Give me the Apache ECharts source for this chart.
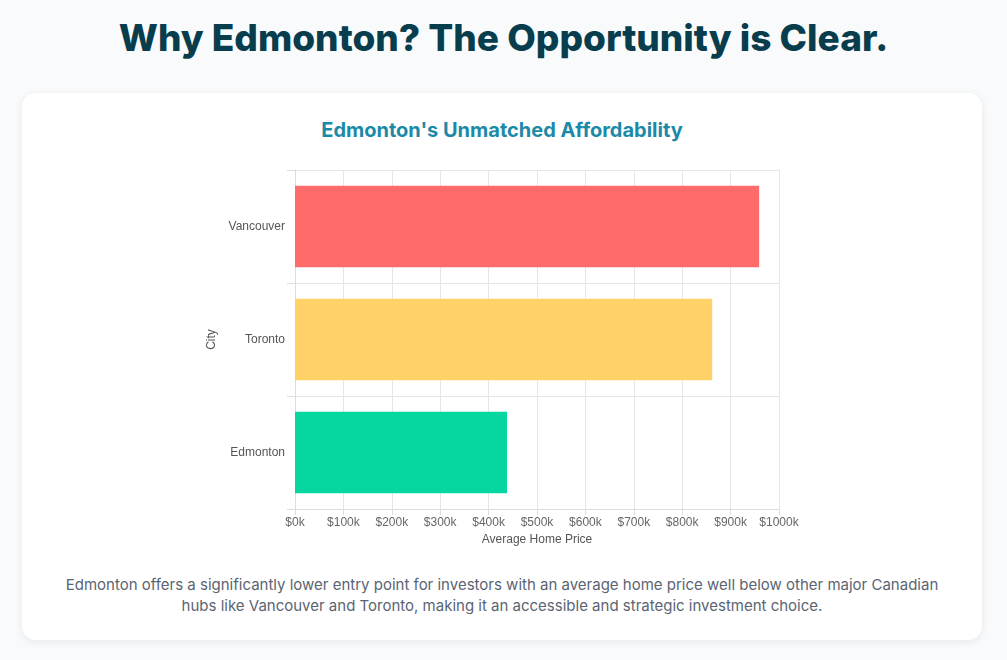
<!DOCTYPE html>
<html><head><meta charset="utf-8">
<script src="https://cdn.jsdelivr.net/npm/echarts@6/dist/echarts.min.js"></script>
<style>
html,body{margin:0;padding:0;background:#f8fafc;width:1007px;height:660px;overflow:hidden;font-family:Inter,"Noto Sans",sans-serif;}
h1{position:absolute;left:0;width:1007px;top:14px;margin:0;text-align:center;font-size:37px;font-weight:800;color:#083d4d;line-height:48px;}
.card{position:absolute;left:22px;top:93px;width:960px;height:547px;background:#fff;border-radius:14px;box-shadow:0 2px 8px rgba(0,0,0,0.08);}
h2{position:absolute;left:0;width:960px;top:24px;margin:0;text-align:center;font-size:20px;font-weight:700;color:#1b8aa8;line-height:26px;}
#chart{position:absolute;left:0;top:57px;width:960px;height:420px;}
p{position:absolute;left:30px;width:900px;top:481px;margin:0;text-align:center;font-size:15px;line-height:21px;color:#5b6472;}
</style></head><body>
<h1>Why Edmonton? The Opportunity is Clear.</h1>
<div class="card">
<h2>Edmonton's Unmatched Affordability</h2>
<div id="chart"></div>
<p>Edmonton offers a significantly lower entry point for investors with an average home price well below other major Canadian hubs like Vancouver and Toronto, making it an accessible and strategic investment choice.</p>
</div>
<script>
const cities = ["Edmonton","Toronto","Vancouver"];
const prices = [438000, 862000, 959000];
const colors = ["#06d6a0","#ffd166","#ff6b6b"];
const chart = echarts.init(document.getElementById('chart'));
chart.setOption({
  animation:false,
  textStyle:{fontFamily:"Liberation Sans, Arial, sans-serif"},
  grid:{left:273,right:203,top:20,bottom:61},
  xAxis:{type:'value',min:0,max:1000000,interval:100000,
    name:'Average Home Price',nameLocation:'middle',nameGap:22,
    nameTextStyle:{color:'#555',fontSize:12},
    axisLabel:{color:'#666',fontSize:12,formatter:v=>'$'+(v/1000)+'k'},
    axisLine:{show:true,lineStyle:{color:'#ddd'}},axisTick:{show:true,length:6,lineStyle:{color:'#ddd'}},
    splitLine:{lineStyle:{color:'#e6e6e6'}}},
  yAxis:{type:'category',data:cities,
    name:'City',nameLocation:'middle',nameGap:76,nameRotate:90,
    nameTextStyle:{color:'#555',fontSize:12},
    axisLabel:{color:'#555',fontSize:12,margin:10},
    axisLine:{lineStyle:{color:'#ddd'}},axisTick:{show:true,length:8,lineStyle:{color:'#ddd'}},
    splitLine:{show:true,lineStyle:{color:'#e6e6e6'}}},
  series:[{type:'bar',barWidth:'72%',
    data:prices.map((v,i)=>({value:v,itemStyle:{color:colors[i]}}))}]
});
</script>
</body></html>
